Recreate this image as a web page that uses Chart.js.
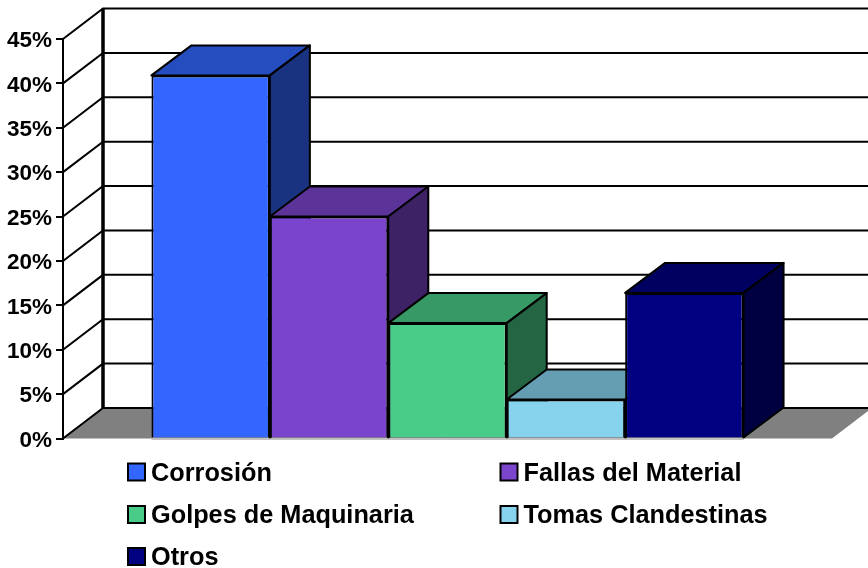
<!DOCTYPE html>
<html><head><meta charset="utf-8">
<style>html,body{margin:0;padding:0;background:#fff}#w{width:868px;height:568px;position:relative}</style>
<script src="https://cdn.jsdelivr.net/npm/chart.js@4"></script>
</head><body><div id="w"><canvas id="c" width="868" height="568"></canvas></div>
<script>
const categories = [""];
const seriesNames = ["Corrosión", "Fallas del Material", "Golpes de Maquinaria", "Tomas Clandestinas", "Otros"];
const corrosion = [40.9];
const fallas = [25];
const golpes = [13];
const tomas = [4.4];
const otros = [16.4];
const seriesValues = [corrosion, fallas, golpes, tomas, otros];
const seriesColors = ["#3366FF", "#7A45CC", "#48CC88", "#87D3EE", "#000080"];
const FONT = 'bold 25.3px "Liberation Sans", Arial, sans-serif';
const DX = 40, DY = 30;      // bar depth
const WX = 40, WY = 30.5;    // wall depth

function shade(hex, f) {
  const n = parseInt(hex.slice(1), 16);
  const c = s => Math.round(((n >> s) & 255) * f);
  return `rgb(${c(16)},${c(8)},${c(0)})`;
}
function poly(ctx, pts, fill, lw) {
  ctx.beginPath();
  pts.forEach((p, i) => i ? ctx.lineTo(p[0], p[1]) : ctx.moveTo(p[0], p[1]));
  ctx.closePath();
  if (fill) { ctx.fillStyle = fill; ctx.fill(); }
  if (lw) { ctx.lineWidth = lw; ctx.strokeStyle = "#000"; ctx.lineJoin = "round"; ctx.stroke(); }
}
const threeD = {
  id: "threeD",
  beforeDatasetsDraw(chart) {
    const { ctx, chartArea: a, scales: { y } } = chart;
    const zero = y.getPixelForValue(0);
    ctx.save();
    // floor
    poly(ctx, [[a.left, zero], [a.left + WX, zero - WY], [a.right + WX, zero - WY], [a.right, zero]], "#808080", 0);
    // wall grid
    ctx.strokeStyle = "#000"; ctx.lineWidth = 2;
    y.ticks.forEach(t => {
      const py = y.getPixelForValue(t.value);
      ctx.beginPath();
      ctx.moveTo(a.left, py);
      ctx.lineTo(a.left + WX, py - WY);
      ctx.lineTo(868, py - WY);
      ctx.stroke();
    });
    ctx.lineWidth = 3.5;
    ctx.beginPath();
    ctx.moveTo(a.left + WX, y.getPixelForValue(y.max) - WY);
    ctx.lineTo(a.left + WX, zero - WY);
    ctx.stroke();
    // top and side faces of the bars
    chart.data.datasets.forEach((ds, i) => {
      const b = chart.getDatasetMeta(i).data[0];
      const l = b.x - b.width / 2, r = b.x + b.width / 2, t = b.y, bt = b.base;
      poly(ctx, [[l, t], [l + DX, t - DY], [r + DX, t - DY], [r, t]], shade(ds.backgroundColor, 0.75), 2);
      poly(ctx, [[r, t], [r + DX, t - DY], [r + DX, bt - DY], [r, bt]], shade(ds.backgroundColor, 0.5), 2);
    });
    ctx.restore();
  },
  afterDatasetsDraw(chart) {
    const { ctx, scales: { y } } = chart;
    const n = chart.data.datasets.length;
    const first = chart.getDatasetMeta(0).data[0], last = chart.getDatasetMeta(n - 1).data[0];
    const py = y.getPixelForValue(0) + 1;
    ctx.save();
    ctx.strokeStyle = "#c4c4c4"; ctx.lineWidth = 1;
    ctx.beginPath();
    ctx.moveTo(first.x - first.width / 2, py);
    ctx.lineTo(last.x + last.width / 2, py);
    ctx.stroke();
    ctx.restore();
  },
  afterDraw(chart) {
    const ctx = chart.ctx;
    const cols = [128, 500.5], rows = [463.5, 506, 548];
    ctx.save();
    ctx.font = FONT;
    ctx.textBaseline = "alphabetic";
    ctx.textAlign = "left";
    chart.data.datasets.forEach((ds, i) => {
      const x = cols[i % 2], y = rows[Math.floor(i / 2)];
      ctx.fillStyle = ds.backgroundColor;
      ctx.fillRect(x, y, 17, 17);
      ctx.strokeStyle = "#000"; ctx.lineWidth = 2;
      ctx.strokeRect(x, y, 17, 17);
      ctx.fillStyle = "#000";
      ctx.fillText(ds.label, x + 23, y + 17);
    });
    ctx.restore();
  }
};
new Chart(document.getElementById("c"), {
  type: "bar",
  data: {
    labels: categories,
    datasets: seriesNames.map((name, i) => ({
      label: name,
      data: seriesValues[i],
      backgroundColor: seriesColors[i],
      borderColor: "#000",
      borderWidth: 2,
      borderSkipped: "bottom"
    }))
  },
  plugins: [threeD],
  options: {
    responsive: false,
    animation: false,
    layout: { padding: { top: 39, bottom: 129.5, right: 36, left: 0 } },
    datasets: { bar: { categoryPercentage: 0.77, barPercentage: 1 } },
    plugins: { legend: { display: false }, tooltip: { enabled: false }, title: { display: false } },
    scales: {
      x: { display: false },
      y: {
        min: 0, max: 45,
        afterFit(s) { s.width = 63; },
        border: { display: true, color: "#000", width: 2 },
        grid: { drawOnChartArea: false, color: "#000", lineWidth: 2, tickLength: 7 },
        ticks: {
          stepSize: 5, padding: 4, labelOffset: 2, color: "#000", font: { family: '"Liberation Sans", Arial, sans-serif', size: 22.5, weight: "bold" },
          callback: v => v + "%"
        }
      }
    }
  }
});
</script></body></html>
